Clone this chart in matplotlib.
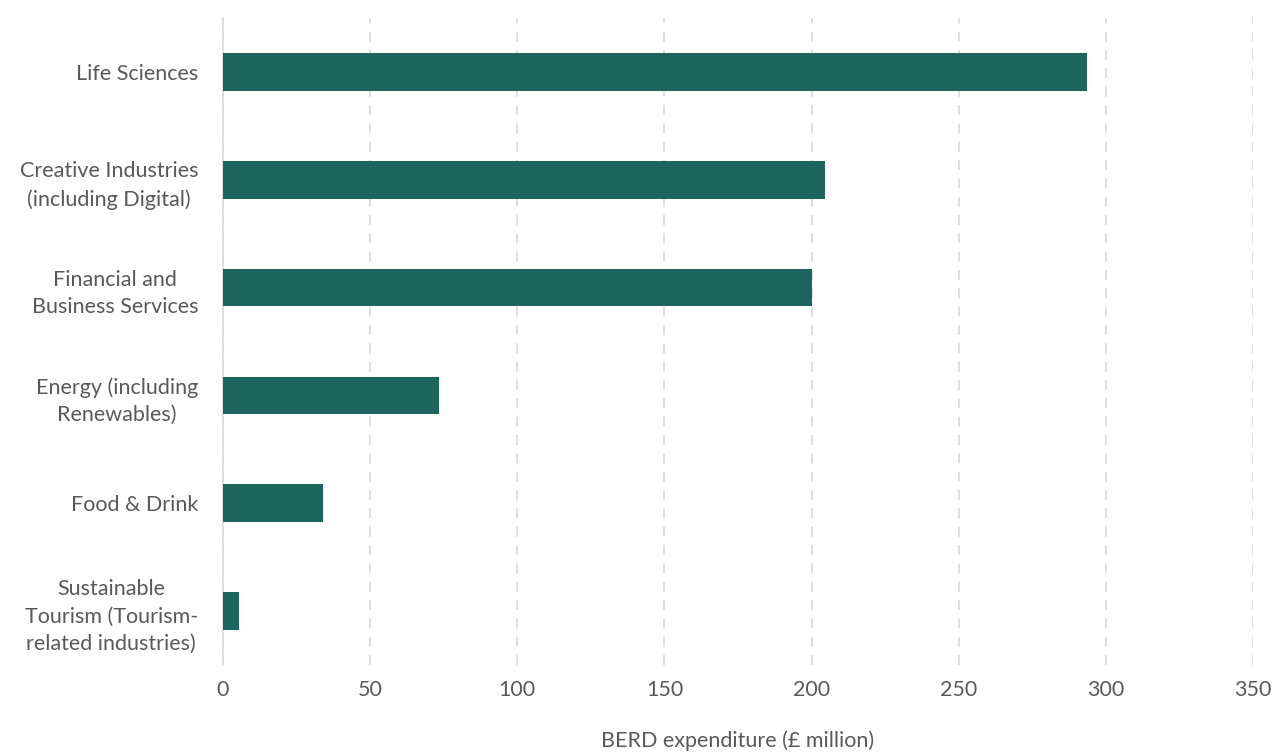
import matplotlib
matplotlib.use("Agg")
import matplotlib.pyplot as plt

# ── Data ──────────────────────────────────────────────────────────────────────
SECTORS = [
    "Life Sciences",
    "Creative Industries\n(including Digital)",
    "Financial and\nBusiness Services",
    "Energy (including\nRenewables)",
    "Food & Drink",
    "Sustainable\nTourism (Tourism-\nrelated industries)",
]
BERD = [293.5, 204.5, 200.0, 73.5, 34.0, 5.5]
XTICKS = [0, 50, 100, 150, 200, 250, 300, 350]

BAR_COLOR = "#1D665F"
TEXT_COLOR = "#595959"

plt.rcParams["font.family"] = ["Lato", "DejaVu Sans"]

fig = plt.figure(figsize=(12.73, 7.53), dpi=100)
ax = fig.add_axes([223/1273, 1-665/753, (1253-223)/1273, (665-18)/753])

ax.barh(range(len(SECTORS)), BERD, height=0.35, color=BAR_COLOR, zorder=3)

ax.set_ylim(len(SECTORS)-0.5, -0.5)
ax.set_xlim(0, 350)
ax.set_xticks(XTICKS)
ax.set_yticks(range(len(SECTORS)))
ax.set_yticklabels(SECTORS, multialignment="center", linespacing=1.45)

ax.grid(axis="x", color="#D9D9D9", linestyle=(0, (6, 5)), linewidth=1.2, zorder=0)
ax.grid(axis="y", visible=False)
for side in ["top", "right", "bottom"]:
    ax.spines[side].set_visible(False)
ax.spines["left"].set_color("#D9D9D9")
ax.spines["left"].set_linewidth(1.2)

ax.tick_params(axis="both", length=0, labelsize=15.5, colors=TEXT_COLOR)
ax.tick_params(axis="x", pad=11)
ax.tick_params(axis="y", pad=18)
ax.set_xlabel("BERD expenditure (£ million)", fontsize=15.5, color=TEXT_COLOR, labelpad=22)

fig.savefig("out.png", dpi=100)
